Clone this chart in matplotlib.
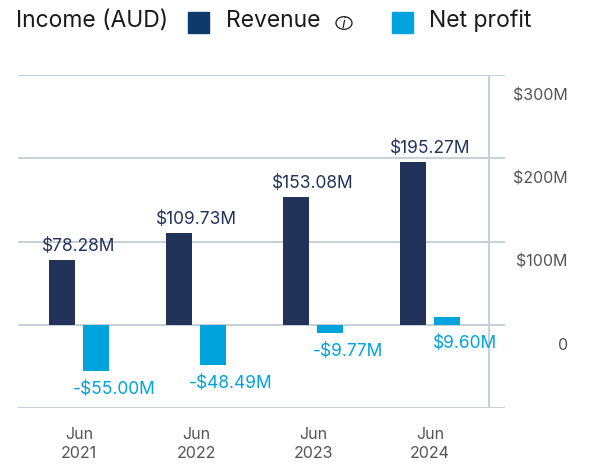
import matplotlib.pyplot as plt
import matplotlib.transforms as mtransforms
import numpy as np

plt.rcParams['font.family'] = ['Inter', 'DejaVu Sans']

years = ['Jun\n2021', 'Jun\n2022', 'Jun\n2023', 'Jun\n2024']
revenue = [78.28, 109.73, 153.08, 195.27]
net_profit = [-55.00, -48.49, -9.77, 9.60]
ticks = [0, 100, 200, 300]
tick_labels = ['0', '$100M', '$200M', '$300M']

rev_color = '#22335a'
np_color = '#00a3dc'
grid_color = '#c9d1d8'

fig = plt.figure(figsize=(5.93, 4.69), dpi=100)
ax = fig.add_axes([18 / 593, 1 - 408 / 469, 487 / 593, 333 / 469])

x = np.arange(len(years))
w = 0.222
ax.bar(x - 0.145, revenue, w, color=rev_color, zorder=3)
ax.bar(x + 0.145, net_profit, w, color=np_color, zorder=3)

ax.set_xlim(-0.52, 3.64)
ax.set_ylim(-100, 300)
for s in ax.spines.values():
    s.set_visible(False)
ax.set_yticks([])
ax.set_xticks(x)
ax.set_xticklabels(years, fontsize=11.5, color='#555555', linespacing=1.3)
ax.tick_params(axis='x', length=0, pad=14)

for t in ticks + [-100]:
    ax.axhline(t, color=grid_color, lw=1.5, zorder=1)
ax.axvline(3.5, color=grid_color, lw=1.5, zorder=1)

trans = mtransforms.blended_transform_factory(ax.transAxes, ax.transData)
for t, lab in zip(ticks, tick_labels):
    ax.text(1.129, t - 25, lab, transform=trans, ha='right', va='center',
            fontsize=11.5, color='#555555')

for i, v in enumerate(revenue):
    ax.text(x[i], v + 6, '$%.2fM' % v, ha='center', va='bottom',
            fontsize=12.5, color=rev_color)
for i, v in enumerate(net_profit):
    base = min(v, 0)
    lab = ('-$%.2fM' % -v) if v < 0 else ('$%.2fM' % v)
    ax.text(x[i] + 0.3, base - 12, lab, ha='center', va='top',
            fontsize=12.5, color=np_color)

# header legend
hy = 1 - 21 / 469
fig.text(16 / 593, hy, 'Income (AUD)', fontsize=16.5, va='center', color='#1a1a1a')
fig.patches.append(plt.Rectangle((188 / 593, 1 - 33 / 469), 21 / 593, 21 / 469,
                                 transform=fig.transFigure, color='#0d3a6b'))
fig.text(226 / 593, hy, 'Revenue', fontsize=16.5, va='center', color='#1a1a1a')
fig.text(344 / 593, 1 - 24 / 469, '$i$', fontsize=10, va='center', ha='center', color='#1a1a1a')
fig.patches.append(plt.Circle((344 / 593, 1 - 23 / 469), 8 / 593,
                              transform=fig.transFigure, fill=False, lw=0.9, ec='#1a1a1a'))
fig.patches.append(plt.Rectangle((392 / 593, 1 - 33 / 469), 21 / 593, 21 / 469,
                                 transform=fig.transFigure, color=np_color))
fig.text(429 / 593, hy, 'Net profit', fontsize=16.5, va='center', color='#1a1a1a')

fig.savefig('out.png', dpi=100)
